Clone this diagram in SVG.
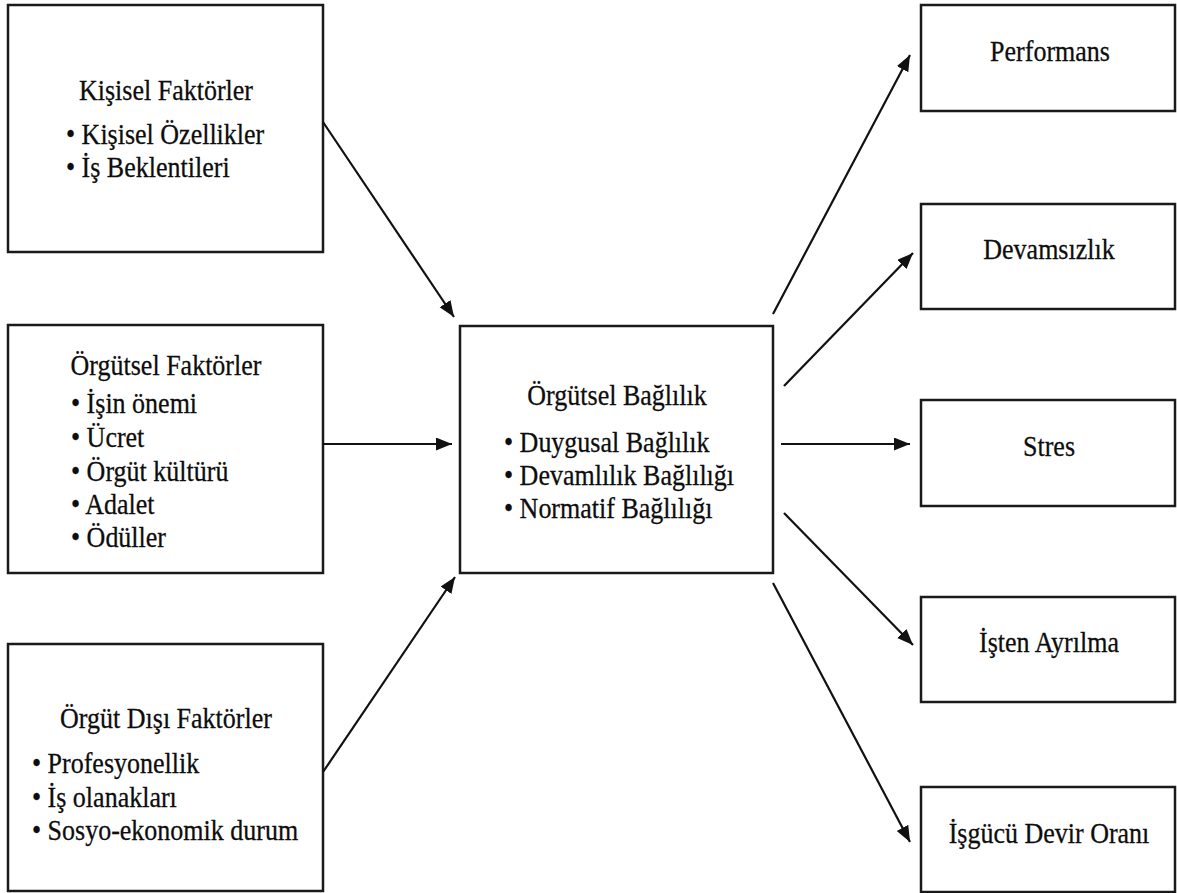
<svg xmlns="http://www.w3.org/2000/svg" width="1177" height="893" viewBox="0 0 1177 893">
<style>
.box{fill:#fff;stroke:#1a1a1a;stroke-width:2.5}
text{font-family:"Liberation Serif","Times New Roman",serif;font-size:26px;fill:#0d0d0d;stroke:#0d0d0d;stroke-width:0.25}
.c{text-anchor:middle}
.con line{stroke:#111;stroke-width:2.2}
</style>
<defs>
<marker id="ah" markerUnits="userSpaceOnUse" markerWidth="18" markerHeight="14" refX="16" refY="6.5" orient="auto">
<path d="M0,0 L16,6.5 L0,13 Z" fill="#111"/>
</marker>
</defs>
<rect width="1177" height="893" fill="#fff"/>
<g id="kisisel">
<rect class="box" x="8" y="5" width="315" height="247"/>
<text class="c" transform="translate(166,100) scale(1,1.1)">Kişisel Faktörler</text>
<text transform="translate(66,144) scale(1,1.1)">• Kişisel Özellikler</text>
<text transform="translate(66,177) scale(1,1.1)">• İş Beklentileri</text>
</g>
<g id="orgutsel">
<rect class="box" x="8" y="325" width="315" height="248"/>
<text class="c" transform="translate(166,375) scale(1,1.1)">Örgütsel Faktörler</text>
<text transform="translate(71,413) scale(1,1.1)">• İşin önemi</text>
<text transform="translate(71,447) scale(1,1.1)">• Ücret</text>
<text transform="translate(71,481) scale(1,1.1)">• Örgüt kültürü</text>
<text transform="translate(71,514) scale(1,1.1)">• Adalet</text>
<text transform="translate(71,547) scale(1,1.1)">• Ödüller</text>
</g>
<g id="orgutdisi">
<rect class="box" x="8" y="644" width="315" height="247"/>
<text class="c" transform="translate(166,728) scale(1,1.1)">Örgüt Dışı Faktörler</text>
<text transform="translate(32,773) scale(1,1.1)">• Profesyonellik</text>
<text transform="translate(32,807) scale(1,1.1)">• İş olanakları</text>
<text transform="translate(32,840) scale(1,1.1)">• Sosyo-ekonomik durum</text>
</g>
<g id="baglilik">
<rect class="box" x="460" y="326" width="313" height="247"/>
<text class="c" transform="translate(617,405) scale(1,1.1)">Örgütsel Bağlılık</text>
<text transform="translate(504,452) scale(1,1.1)">• Duygusal Bağlılık</text>
<text transform="translate(504,485) scale(1,1.1)">• Devamlılık Bağlılığı</text>
<text transform="translate(504,518) scale(1,1.1)">• Normatif Bağlılığı</text>
</g>
<g id="performans">
<rect class="box" x="921" y="5" width="254" height="106"/>
<text class="c" transform="translate(1050,61) scale(1,1.1)">Performans</text>
</g>
<g id="devamsizlik">
<rect class="box" x="921" y="204" width="254" height="105"/>
<text class="c" transform="translate(1049,259) scale(1,1.1)">Devamsızlık</text>
</g>
<g id="stres">
<rect class="box" x="921" y="400" width="254" height="106"/>
<text class="c" transform="translate(1049,456) scale(1,1.1)">Stres</text>
</g>
<g id="istenayrilma">
<rect class="box" x="921" y="597" width="254" height="105"/>
<text class="c" transform="translate(1049,652) scale(1,1.1)">İşten Ayrılma</text>
</g>
<g id="isgucu">
<rect class="box" x="921" y="787" width="254" height="105"/>
<text class="c" transform="translate(1049,843) scale(1,1.1)">İşgücü Devir Oranı</text>
</g>
<g class="con" id="connectors">
<line x1="323" y1="122" x2="454" y2="317" marker-end="url(#ah)"/>
<line x1="323" y1="444" x2="452" y2="444" marker-end="url(#ah)"/>
<line x1="323" y1="772" x2="455" y2="577" marker-end="url(#ah)"/>
<line x1="773" y1="314" x2="910" y2="55" marker-end="url(#ah)"/>
<line x1="784" y1="386" x2="913" y2="253" marker-end="url(#ah)"/>
<line x1="781" y1="444" x2="910" y2="444" marker-end="url(#ah)"/>
<line x1="784" y1="513" x2="913" y2="645" marker-end="url(#ah)"/>
<line x1="773" y1="583" x2="910" y2="842" marker-end="url(#ah)"/>
</g>
</svg>
